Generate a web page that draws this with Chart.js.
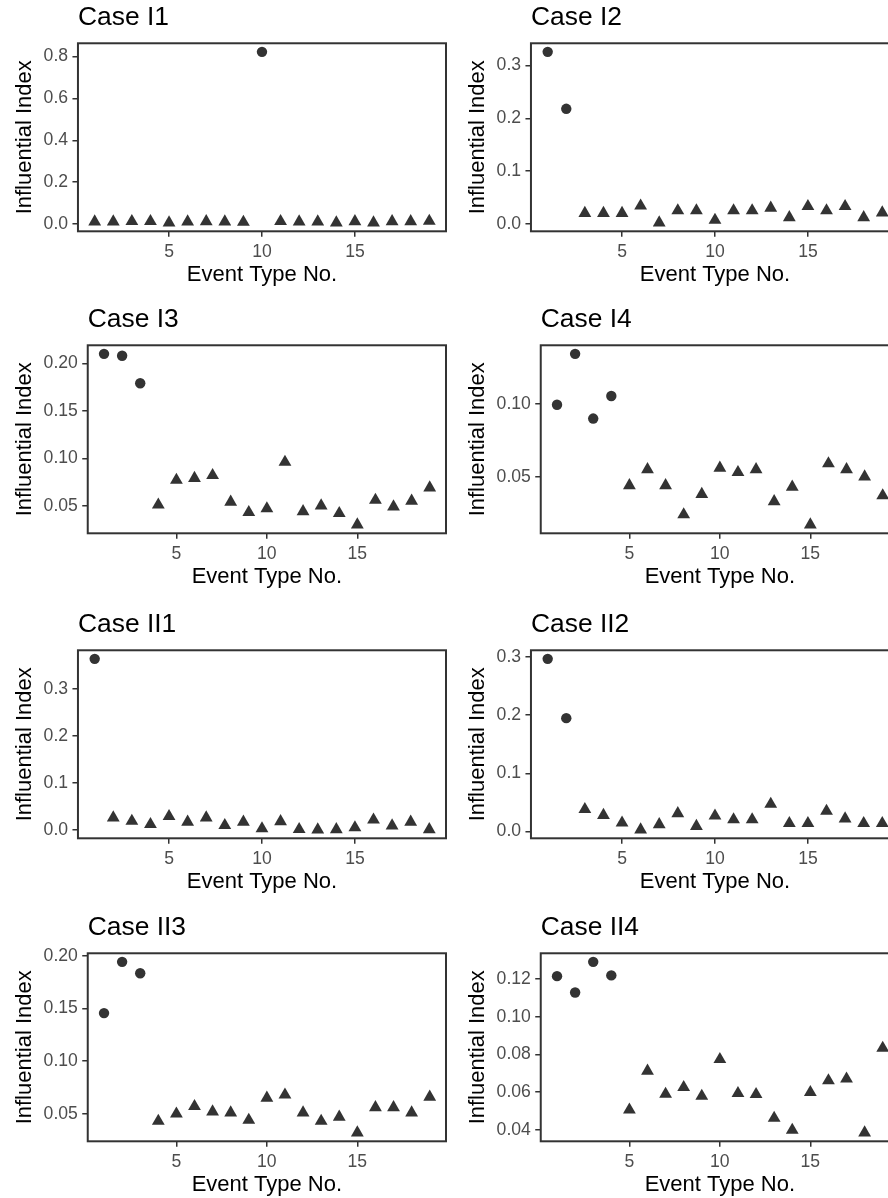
<!DOCTYPE html>
<html>
<head>
<meta charset="utf-8">
<script src="https://cdn.jsdelivr.net/npm/chart.js@4.4.1/dist/chart.umd.min.js"></script>
<style>
  html, body { margin: 0; padding: 0; background: #fff; overflow: hidden; }
  body { width: 888px; height: 1198px; position: relative; }
  .panel { position: absolute; }
</style>
</head>
<body>
<canvas id="caseI1"  class="panel" width="454" height="300" style="left:0;top:0"></canvas>
<canvas id="caseI2"  class="panel" width="454" height="300" style="left:453px;top:0"></canvas>
<canvas id="caseI3"  class="panel" width="454" height="300" style="left:0;top:302px"></canvas>
<canvas id="caseI4"  class="panel" width="454" height="300" style="left:453px;top:302px"></canvas>
<canvas id="caseII1" class="panel" width="454" height="300" style="left:0;top:607px"></canvas>
<canvas id="caseII2" class="panel" width="454" height="300" style="left:453px;top:607px"></canvas>
<canvas id="caseII3" class="panel" width="454" height="300" style="left:0;top:910px"></canvas>
<canvas id="caseII4" class="panel" width="454" height="300" style="left:453px;top:910px"></canvas>
<script>
// event types on the x axis
const eventNo = [1, 2, 3, 4, 5, 6, 7, 8, 9, 10, 11, 12, 13, 14, 15, 16, 17, 18, 19];
const xTicks = ['5', '10', '15'];

// influential index of each event type
const caseI1  = [0.011, 0.011, 0.013, 0.013, 0.006, 0.011, 0.012, 0.011, 0.009, 0.823, 0.013, 0.011, 0.011, 0.006, 0.012, 0.006, 0.012, 0.012, 0.014];
const caseI2  = [0.326, 0.218, 0.020, 0.020, 0.020, 0.034, 0.002, 0.025, 0.025, 0.007, 0.025, 0.025, 0.030, 0.012, 0.033, 0.025, 0.033, 0.012, 0.021];
const caseI3  = [0.210, 0.208, 0.179, 0.051, 0.077, 0.079, 0.082, 0.054, 0.043, 0.047, 0.096, 0.044, 0.050, 0.042, 0.030, 0.056, 0.049, 0.055, 0.069];
const caseI4  = [0.0995, 0.1345, 0.090, 0.1055, 0.044, 0.055, 0.044, 0.024, 0.038, 0.056, 0.053, 0.055, 0.033, 0.043, 0.017, 0.059, 0.055, 0.050, 0.037];
const caseII1 = [0.364, 0.026, 0.019, 0.012, 0.029, 0.017, 0.026, 0.010, 0.017, 0.003, 0.018, 0.0015, 0.0005, 0.001, 0.005, 0.0215, 0.009, 0.017, 0.001];
const caseII2 = [0.297, 0.195, 0.038, 0.028, 0.015, 0.003, 0.012, 0.031, 0.009, 0.027, 0.0205, 0.0205, 0.047, 0.014, 0.014, 0.035, 0.022, 0.014, 0.014];
const caseII3 = [0.1456, 0.1943, 0.1835, 0.043, 0.050, 0.057, 0.052, 0.051, 0.044, 0.065, 0.068, 0.051, 0.043, 0.047, 0.032, 0.056, 0.056, 0.051, 0.066];
const caseII4 = [0.1216, 0.1129, 0.1292, 0.1220, 0.0506, 0.0712, 0.0589, 0.0625, 0.0579, 0.0774, 0.0593, 0.0588, 0.0462, 0.0398, 0.0599, 0.0661, 0.0670, 0.0384, 0.0834];

// event types flagged as influential (drawn as circles)
const flaggedI1  = [10];
const flaggedI2  = [1, 2];
const flaggedI3  = [1, 2, 3];
const flaggedI4  = [1, 2, 3, 4];
const flaggedII1 = [1];
const flaggedII2 = [1, 2];
const flaggedII3 = [1, 2, 3];
const flaggedII4 = [1, 2, 3, 4];

// y tick labels
const yTicksI1  = ['0.0', '0.2', '0.4', '0.6', '0.8'];
const yTicksI2  = ['0.0', '0.1', '0.2', '0.3'];
const yTicksI3  = ['0.05', '0.10', '0.15', '0.20'];
const yTicksI4  = ['0.05', '0.10'];
const yTicksII1 = ['0.0', '0.1', '0.2', '0.3'];
const yTicksII2 = ['0.0', '0.1', '0.2', '0.3'];
const yTicksII3 = ['0.05', '0.10', '0.15', '0.20'];
const yTicksII4 = ['0.04', '0.06', '0.08', '0.10', '0.12'];

const INK = '#333333';
Chart.defaults.font.family = '"Liberation Sans", Arial, sans-serif';

// full box round the plotting area, drawn over the points
const panelBorder = {
  id: 'panelBorder',
  afterDatasetsDraw(chart) {
    const { ctx, chartArea: a } = chart;
    ctx.save();
    ctx.strokeStyle = INK;
    ctx.lineWidth = 2;
    ctx.strokeRect(a.left, a.top, a.right - a.left, a.bottom - a.top);
    ctx.restore();
  }
};

// 5% padding on each side of the data range
function padRange(vals) {
  const lo = Math.min(...vals), hi = Math.max(...vals);
  const pad = (hi - lo) * 0.05;
  return [lo - pad, hi + pad];
}

function drawCase(id, title, values, flagged, yTicks) {
  const circles = [], triangles = [];
  eventNo.forEach((n, i) => {
    (flagged.includes(n) ? circles : triangles).push({ x: n, y: values[i] });
  });
  const [xMin, xMax] = padRange(eventNo);
  const [yMin, yMax] = padRange(values);

  new Chart(document.getElementById(id), {
    type: 'scatter',
    data: {
      datasets: [
        { data: triangles, pointStyle: 'triangle', pointRadius: 7.4, backgroundColor: INK, borderWidth: 0 },
        { data: circles, pointStyle: 'circle', pointRadius: 5.2, backgroundColor: INK, borderWidth: 0 }
      ]
    },
    options: {
      responsive: false,
      animation: false,
      events: [],
      layout: { padding: { left: 0, right: 8, top: 0, bottom: 8.7 } },
      plugins: {
        legend: { display: false },
        tooltip: { enabled: false },
        title: {
          display: true, text: title, align: 'start', fullSize: false,
          color: '#000', font: { size: 26.4, weight: 'normal' },
          padding: { top: 1.4, bottom: 10.2 }
        }
      },
      scales: {
        x: {
          type: 'linear', min: xMin, max: xMax, bounds: 'data',
          afterBuildTicks: s => { s.ticks = xTicks.map(t => ({ value: parseFloat(t) })); },
          afterFit: s => { s.height = 60; },
          ticks: {
            autoSkip: false, maxRotation: 0, padding: 4.4,
            color: '#4d4d4d', font: { size: 17.6 },
            callback: (v, i) => xTicks[i]
          },
          grid: { drawOnChartArea: false, drawTicks: true, tickLength: 5.5, color: INK, lineWidth: 1.5 },
          border: { display: false },
          title: {
            display: true, text: 'Event Type No.', color: '#000',
            font: { size: 22 }, padding: { top: 0, bottom: 3.6 }
          }
        },
        y: {
          type: 'linear', min: yMin, max: yMax, bounds: 'data',
          afterBuildTicks: s => { s.ticks = yTicks.map(t => ({ value: parseFloat(t) })); },
          ticks: {
            autoSkip: false, padding: 4.4,
            color: '#4d4d4d', font: { size: 17.6 },
            callback: (v, i) => yTicks[i]
          },
          grid: { drawOnChartArea: false, drawTicks: true, tickLength: 5.5, color: INK, lineWidth: 1.5 },
          border: { display: false },
          title: {
            display: true, text: 'Influential Index', color: '#000',
            font: { size: 22 }, padding: { top: 11.4, bottom: 1.4 }
          }
        }
      }
    },
    plugins: [panelBorder]
  });
}

drawCase('caseI1',  'Case I1',  caseI1,  flaggedI1,  yTicksI1);
drawCase('caseI2',  'Case I2',  caseI2,  flaggedI2,  yTicksI2);
drawCase('caseI3',  'Case I3',  caseI3,  flaggedI3,  yTicksI3);
drawCase('caseI4',  'Case I4',  caseI4,  flaggedI4,  yTicksI4);
drawCase('caseII1', 'Case II1', caseII1, flaggedII1, yTicksII1);
drawCase('caseII2', 'Case II2', caseII2, flaggedII2, yTicksII2);
drawCase('caseII3', 'Case II3', caseII3, flaggedII3, yTicksII3);
drawCase('caseII4', 'Case II4', caseII4, flaggedII4, yTicksII4);
</script>
</body>
</html>
